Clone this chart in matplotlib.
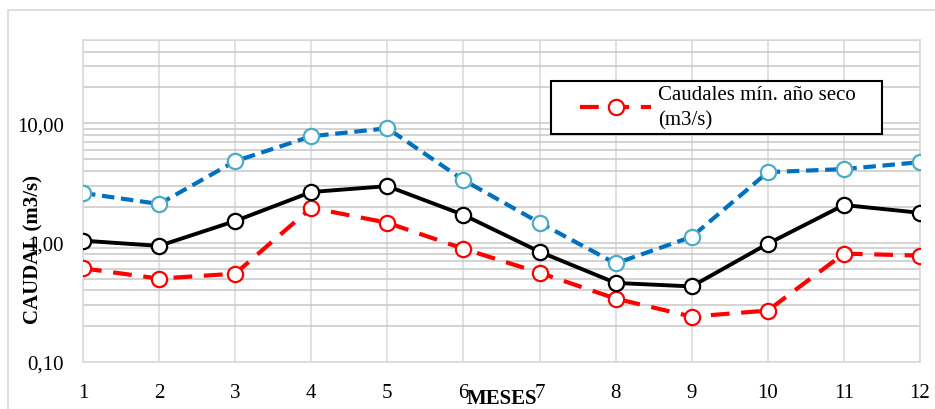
import matplotlib
matplotlib.use('Agg')
import matplotlib.pyplot as plt
from matplotlib.ticker import FixedLocator, LogLocator, NullFormatter

# ------------------------------------------------------------
# Data
# ------------------------------------------------------------
meses = [1, 2, 3, 4, 5, 6, 7, 8, 9, 10, 11, 12]
caudal_max = [2.61, 2.11, 4.82, 7.8, 9.1, 3.35, 1.47, 0.67, 1.12, 3.9, 4.14, 4.73]
caudal_medio = [1.04, 0.94, 1.52, 2.66, 2.98, 1.71, 0.84, 0.46, 0.43, 0.98, 2.07, 1.78]
caudal_min_seco = [0.61, 0.50, 0.55, 1.96, 1.47, 0.89, 0.56, 0.34, 0.24, 0.27, 0.81, 0.78]

y_ticks = [0.1, 1, 10]
y_tick_labels = ['0,10', '1,00', '10,00']

plt.rcParams['font.family'] = ['Liberation Serif', 'DejaVu Serif']

W, H = 935, 410
fig = plt.figure(figsize=(W / 100, H / 100), dpi=100)
ax = fig.add_axes([83 / W, 1 - 363 / H, (920 - 83) / W, (363 - 41) / H])

# outer chart frame
fig.add_artist(plt.Rectangle((8 / W, -0.1), 1.2, 1 - 11 / H + 0.1,
                             transform=fig.transFigure, fill=False,
                             edgecolor='#d9d9d9', linewidth=1.2))

# series
ax.plot(meses, caudal_max, color='#0070C0', linewidth=3, dashes=(3, 1.6),
        marker='o', markersize=11, markerfacecolor='white',
        markeredgecolor='#4BACC6', markeredgewidth=1.6, zorder=3)
ax.plot(meses, caudal_medio, color='black', linewidth=2.8,
        marker='o', markersize=11, markerfacecolor='white',
        markeredgecolor='black', markeredgewidth=1.6, zorder=4)
red_line, = ax.plot(meses, caudal_min_seco, color='#FF0000', linewidth=3,
                    dashes=(4.5, 2.8), marker='o', markersize=11,
                    markerfacecolor='white', markeredgecolor='#FF0000',
                    markeredgewidth=1.6, zorder=3)

# axes
ax.set_yscale('log')
ax.set_ylim(0.1, 50)
ax.set_xlim(1, 12)
ax.set_xticks(meses)
ax.set_xticklabels([str(m) for m in meses])
ax.yaxis.set_major_locator(FixedLocator(y_ticks))
ax.set_yticklabels(y_tick_labels)
ax.yaxis.set_minor_locator(LogLocator(base=10, subs=range(2, 10)))
ax.yaxis.set_minor_formatter(NullFormatter())
ax.tick_params(axis='both', which='both', length=0, labelsize=15)
ax.tick_params(axis='y', pad=14)
ax.tick_params(axis='x', pad=15)

ax.grid(True, axis='y', which='both', color='#c8c8c8', linewidth=1.1)
ax.grid(True, axis='x', which='major', color='#d9d9d9', linewidth=1.1)
ax.set_axisbelow(True)
for s in ax.spines.values():
    s.set_color('#d9d9d9')
    s.set_linewidth(1.1)

# axis titles
fig.text(33 / W, 1 - 250 / H, 'CAUDAL (m3/s)', rotation=90, ha='center',
         va='center', fontsize=15, fontweight='bold')
fig.text(502 / W, 1 - 399 / H, 'MESES', ha='center', va='center',
         fontsize=15, fontweight='bold')

# legend (frame drawn separately to match the wider box)
leg_box = plt.Rectangle((551 / W, 1 - 135 / H), (882 - 551) / W, (135 - 82) / H,
                        transform=fig.transFigure, facecolor='white',
                        edgecolor='black', linewidth=1.5, zorder=5)
fig.add_artist(leg_box)
leg = ax.legend(handles=[red_line], labels=['Caudales mín. año seco\n(m3/s)'],
                loc='upper left', bbox_to_anchor=(578 / W, 1 - 84 / H),
                bbox_transform=fig.transFigure, fontsize=15, frameon=False,
                borderpad=0.1, handlelength=3.4, handletextpad=0.35,
                borderaxespad=0)
leg.get_texts()[0].set_linespacing(1.45)
leg.set_zorder(6)
fig.legends.append(leg)
ax.legend_ = None

plt.savefig('out.png', dpi=100)
